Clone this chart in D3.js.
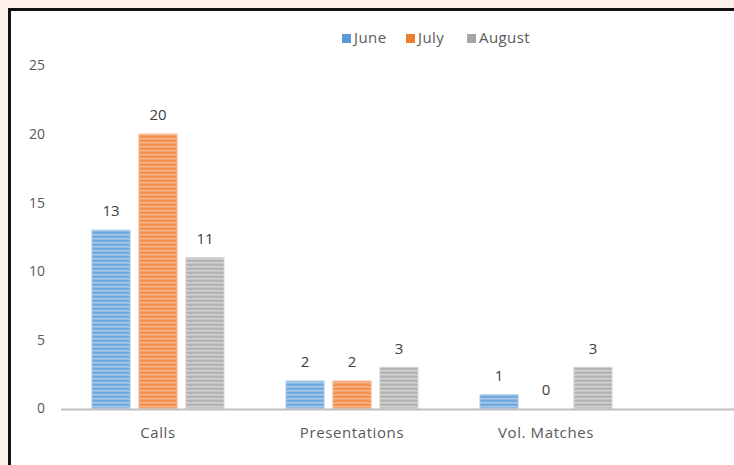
<!DOCTYPE html>
<html>
<head>
<meta charset="utf-8">
<script src="https://cdn.jsdelivr.net/npm/d3@7"></script>
<style>
  body { margin: 0; background: #fdf0e8; }
  svg { display: block; font-family: "Open Sans", "Noto Sans", sans-serif; }
</style>
</head>
<body>
<div id="chart-area"></div>
<script>
var categories = ["Calls", "Presentations", "Vol. Matches"];
var seriesNames = ["June", "July", "August"];
var june = [13, 2, 1];
var july = [20, 2, 0];
var august = [11, 3, 3];
var yTicks = [0, 5, 10, 15, 20, 25];

var colors = { June: "#5b9bd5", July: "#ed7d31", August: "#a5a5a5" };
var fills = { June: "#72a9dd", July: "#f1904e", August: "#b3b3b3" };
var lights = { June: "#a8c9ea", July: "#f6b78c", August: "#d3d3d3" };

var width = 734, height = 465;

var svg = d3.select("#chart-area")
  .append("svg")
  .attr("width", width)
  .attr("height", height);

// frame
svg.append("rect")
  .attr("x", 9.5).attr("y", 9.5)
  .attr("width", width + 20).attr("height", height + 20)
  .attr("fill", "#ffffff")
  .attr("stroke", "#111")
  .attr("stroke-width", 3);

// striped fills
var defs = svg.append("defs");
seriesNames.forEach(s => {
  var p = defs.append("pattern")
    .attr("id", "pat-" + s)
    .attr("patternUnits", "userSpaceOnUse")
    .attr("width", 4).attr("height", 4);
  p.append("rect").attr("width", 4).attr("height", 4).attr("fill", fills[s]);
  p.append("rect").attr("y", 2).attr("width", 4).attr("height", 1.5).attr("fill", lights[s]);
});

var data = categories.map((c, i) => ({
  cat: c,
  values: [
    { key: "June", value: june[i] },
    { key: "July", value: july[i] },
    { key: "August", value: august[i] }
  ]
}));

var x0 = d3.scaleBand().domain(categories).range([61, 643]);
var x1 = d3.scaleBand().domain(seriesNames).range([31, 163]).paddingInner(0.19);
var y = d3.scaleLinear().domain([0, 25]).range([408.5, 65.5]);

// y labels (no axis line)
svg.append("g")
  .selectAll("text")
  .data(yTicks)
  .enter()
  .append("text")
    .attr("x", 45)
    .attr("y", d => y(d))
    .attr("dy", "0.35em")
    .attr("text-anchor", "end")
    .attr("font-size", 14)
    .attr("fill", "#595959")
    .text(d => d);

var groups = svg.selectAll("g.cat")
  .data(data)
  .enter()
  .append("g")
    .attr("class", "cat")
    .attr("transform", d => "translate(" + x0(d.cat) + ",0)");

groups.selectAll("rect")
  .data(d => d.values)
  .enter()
  .append("rect")
    .attr("x", d => x1(d.key))
    .attr("y", d => y(d.value))
    .attr("width", x1.bandwidth())
    .attr("height", d => y(0) - y(d.value))
    .attr("fill", d => "url(#pat-" + d.key + ")")
    .attr("stroke", d => lights[d.key])
    .attr("stroke-width", 1);

groups.selectAll("text.val")
  .data(d => d.values)
  .enter()
  .append("text")
    .attr("class", "val")
    .attr("x", d => x1(d.key) + x1.bandwidth() / 2)
    .attr("y", d => y(d.value) - 19)
    .attr("dy", "0.35em")
    .attr("text-anchor", "middle")
    .attr("font-size", 15)
    .attr("fill", "#404040")
    .text(d => d.value);

// x axis baseline
svg.append("line")
  .attr("x1", 61).attr("x2", width)
  .attr("y1", y(0) + 1).attr("y2", y(0) + 1)
  .attr("stroke", "#bfbfbf")
  .attr("stroke-width", 2);

svg.append("g")
  .selectAll("text")
  .data(categories)
  .enter()
  .append("text")
    .attr("x", d => x0(d) + x0.bandwidth() / 2)
    .attr("y", 433)
    .attr("dy", "0.35em")
    .attr("text-anchor", "middle")
    .attr("font-size", 15)
    .attr("letter-spacing", 0.6)
    .attr("fill", "#595959")
    .text(d => d);

// legend
var legendX = [342, 406, 467];
var legend = svg.append("g")
  .selectAll("g")
  .data(seriesNames)
  .enter()
  .append("g")
    .attr("transform", (d, i) => "translate(" + legendX[i] + ",38)");

legend.append("rect")
  .attr("x", 0).attr("y", -4)
  .attr("width", 9).attr("height", 9)
  .attr("fill", d => colors[d]);

legend.append("text")
  .attr("x", 12)
  .attr("dy", "0.35em")
  .attr("font-size", 15)
  .attr("letter-spacing", 0.4)
  .attr("fill", "#595959")
  .text(d => d);
</script>
</body>
</html>
